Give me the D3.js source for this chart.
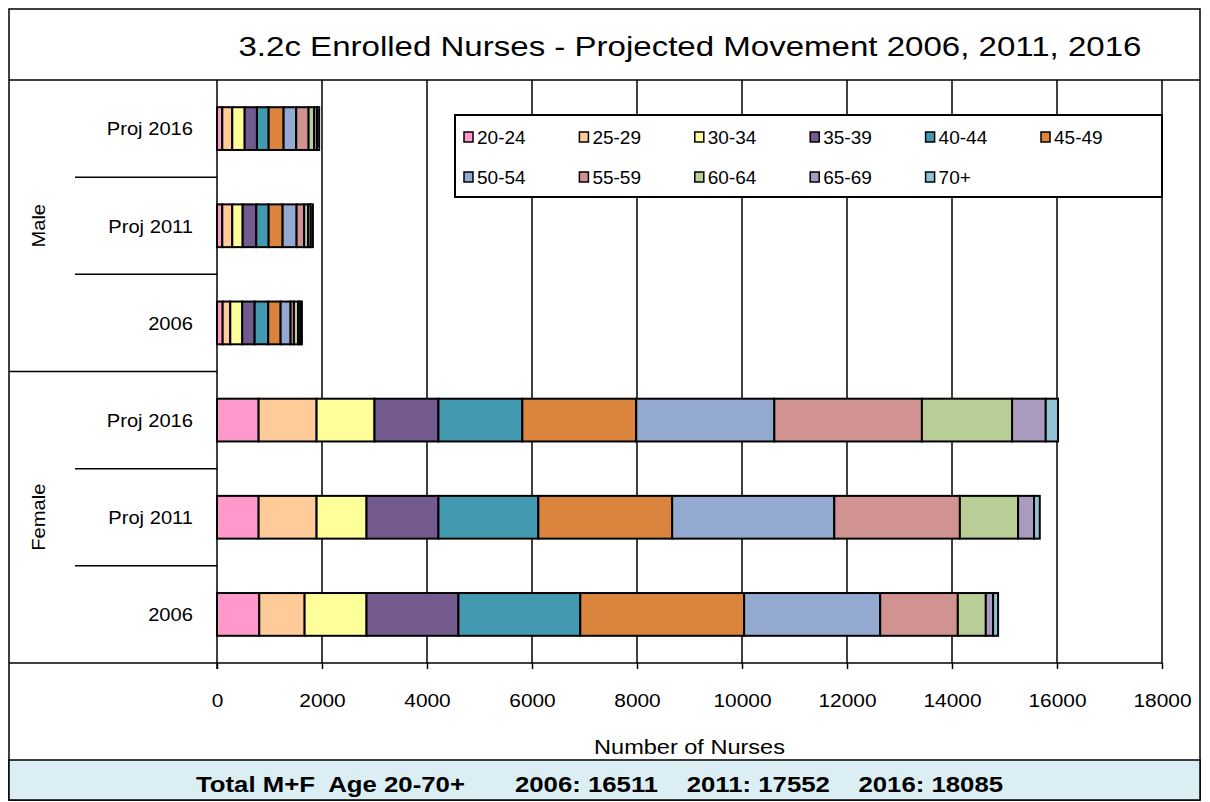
<!DOCTYPE html>
<html>
<head>
<meta charset="utf-8">
<script src="https://cdn.jsdelivr.net/npm/d3@7"></script>
<style>
    body { margin: 0; background: #fff; }
    svg text { font-family: "Liberation Sans", Arial, sans-serif; fill: #000; }
</style>
</head>
<body>
<div id="chart-container"></div>
<script>
// Age groups (stack order, left to right)
const ageGroups = ["20-24", "25-29", "30-34", "35-39", "40-44", "45-49",
                   "50-54", "55-59", "60-64", "65-69", "70+"];
const ageColors = ["#FF99CC", "#FFCC99", "#FFFF99", "#735B8F", "#4399B0", "#DB843D",
                   "#93A9CF", "#D19392", "#B9CD96", "#A99BBD", "#91C3D5"];

// Rows, top to bottom
const groups = ["Male", "Female"];
const rowLabels = ["Proj 2016", "Proj 2011", "2006"];

// Number of nurses per age group
const male2016 = [101, 190, 236, 234, 223, 285, 240, 236, 106, 55, 40];
const male2011 = [101, 190, 198, 259, 236, 266, 266, 145, 76, 50, 39];
const male2006 = [108, 145, 228, 236, 259, 236, 190, 63, 82, 40, 30];
const female2016 = [793, 1104, 1103, 1218, 1598, 2169, 2631, 2811, 1718, 641, 234];
const female2011 = [793, 1104, 951, 1370, 1903, 2549, 3088, 2392, 1109, 304, 109];
const female2006 = [805, 864, 1179, 1751, 2321, 3120, 2593, 1478, 533, 139, 95];

const xTicks = [0, 2000, 4000, 6000, 8000, 10000, 12000, 14000, 16000, 18000];

const titleText = "3.2c Enrolled Nurses - Projected Movement 2006, 2011, 2016";
const xAxisTitle = "Number of Nurses";
const footerText = "Total M+F  Age 20-70+       2006: 16511    2011: 17552    2016: 18085";

// the source picture's text is a bit wider than plain Arial
function stretch(sel, k) {
    sel.each(function() {
        const w = this.getComputedTextLength();
        d3.select(this)
            .attr("textLength", w * k)
            .attr("lengthAdjust", "spacingAndGlyphs");
    });
}

class StackedBarChart {
    constructor() {
        this.container = d3.select("#chart-container");
        this.W = 1210;
        this.H = 802;
        this.plot = {left: 217, right: 1162, top: 80, bottom: 663};

        this.rows = [
            {group: "Male", label: rowLabels[0], values: male2016},
            {group: "Male", label: rowLabels[1], values: male2011},
            {group: "Male", label: rowLabels[2], values: male2006},
            {group: "Female", label: rowLabels[0], values: female2016},
            {group: "Female", label: rowLabels[1], values: female2011},
            {group: "Female", label: rowLabels[2], values: female2006}
        ].map((r, i) => ({...r, key: r.group + " " + r.label, idx: i}));

        this.init();
        this.render();
    }

    init() {
        this.svg = this.container.append("svg")
            .attr("width", this.W)
            .attr("height", this.H);

        this.xScale = d3.scaleLinear()
            .domain([0, 18000])
            .range([this.plot.left, this.plot.right]);

        this.yScale = d3.scaleBand()
            .domain(this.rows.map(d => d.key))
            .range([this.plot.top, this.plot.bottom])
            .paddingInner(0.56)
            .paddingOuter(0.28);

        this.color = d3.scaleOrdinal().domain(ageGroups).range(ageColors);
    }

    render() {
        const svg = this.svg;
        const p = this.plot;
        const x = this.xScale;
        const y = this.yScale;
        const step = y.step();

        // outer frame
        svg.append("rect")
            .attr("x", 9).attr("y", 9)
            .attr("width", 1191).attr("height", 791)
            .attr("fill", "#fff")
            .attr("stroke", "#000").attr("stroke-width", 1.5);

        // footer band
        svg.append("rect")
            .attr("x", 9).attr("y", 760)
            .attr("width", 1191).attr("height", 40)
            .attr("fill", "#DBEEF4")
            .attr("stroke", "#000").attr("stroke-width", 1.5);

        svg.append("text")
            .attr("x", 196).attr("y", 792)
            .style("font-size", "22px")
            .style("font-weight", "bold")
            .style("white-space", "pre")
            .attr("xml:space", "preserve")
            .text(footerText)
            .call(stretch, 1.17);

        // title
        svg.append("text")
            .attr("x", 690).attr("y", 56)
            .attr("text-anchor", "middle")
            .style("font-size", "28px")
            .text(titleText)
            .call(stretch, 1.18);

        // vertical gridlines
        svg.append("g").selectAll("line")
            .data(xTicks.slice(1))
            .join("line")
            .attr("x1", d => x(d)).attr("x2", d => x(d))
            .attr("y1", p.top).attr("y2", p.bottom)
            .attr("stroke", "#000").attr("stroke-width", 1.5);

        // x axis
        const xAxis = svg.append("g")
            .attr("transform", `translate(0,${p.bottom})`)
            .call(d3.axisBottom(x).tickValues(xTicks).tickSize(6).tickPadding(38).tickFormat(d3.format("d")));
        xAxis.select(".domain").remove();
        xAxis.selectAll(".tick line").attr("stroke", "#000").attr("stroke-width", 1.5);
        xAxis.selectAll(".tick text")
            .attr("dy", 0)
            .style("font-family", "'Liberation Sans', Arial, sans-serif")
            .style("font-size", "18px")
            .call(stretch, 1.16);

        svg.append("text")
            .attr("x", (p.left + p.right) / 2).attr("y", 754)
            .attr("text-anchor", "middle")
            .style("font-size", "21px")
            .text(xAxisTitle)
            .call(stretch, 1.12);

        // row separators on the category axis
        const sepLines = d3.range(0, 7).map(k => ({
            y: p.top + k * step,
            x1: (k % 3 === 0) ? 9 : 75,
            x2: k === 0 ? 1200 : (k === 6 ? p.right : p.left)
        }));
        svg.append("g").selectAll("line")
            .data(sepLines)
            .join("line")
            .attr("x1", d => d.x1).attr("x2", d => d.x2)
            .attr("y1", d => d.y).attr("y2", d => d.y)
            .attr("stroke", "#000").attr("stroke-width", 1.5);

        // value axis line
        svg.append("line")
            .attr("x1", p.left).attr("x2", p.left)
            .attr("y1", p.top).attr("y2", p.bottom + 6)
            .attr("stroke", "#000").attr("stroke-width", 1.5);

        // row labels
        svg.append("g").selectAll("text")
            .data(this.rows)
            .join("text")
            .attr("x", 193)
            .attr("y", d => y(d.key) + y.bandwidth() / 2)
            .attr("dy", "0.36em")
            .attr("text-anchor", "end")
            .style("font-size", "19px")
            .text(d => d.label)
            .call(stretch, 1.06);

        // group labels
        svg.append("g").selectAll("text")
            .data(groups)
            .join("text")
            .attr("transform", (d, i) => `translate(38,${p.top + (i * 3 + 1.5) * step}) rotate(-90)`)
            .attr("dy", "0.36em")
            .attr("text-anchor", "middle")
            .style("font-size", "19px")
            .text(d => d)
            .call(stretch, 1.06);

        // stacked bars
        const stackData = this.rows.map(r => {
            const o = {key: r.key};
            ageGroups.forEach((a, i) => { o[a] = r.values[i]; });
            return o;
        });
        const series = d3.stack().keys(ageGroups)(stackData);

        svg.append("g").selectAll("g")
            .data(series)
            .join("g")
            .attr("fill", d => this.color(d.key))
            .selectAll("rect")
            .data(d => d)
            .join("rect")
            .attr("x", d => x(d[0]))
            .attr("width", d => x(d[1]) - x(d[0]))
            .attr("y", d => y(d.data.key))
            .attr("height", y.bandwidth())
            .attr("stroke", "#000")
            .attr("stroke-width", 2);

        // legend
        const lg = svg.append("g").attr("transform", "translate(455,115)");
        lg.append("rect")
            .attr("width", 707).attr("height", 82)
            .attr("fill", "#fff")
            .attr("stroke", "#000").attr("stroke-width", 2);

        const items = lg.selectAll("g.item")
            .data(ageGroups)
            .join("g")
            .attr("class", "item")
            .attr("transform", (d, i) => `translate(${9 + (i % 6) * 115.4},${i < 6 ? 22 : 62})`);
        items.append("rect")
            .attr("x", 0).attr("y", -5)
            .attr("width", 9).attr("height", 10)
            .attr("fill", d => this.color(d))
            .attr("stroke", "#000").attr("stroke-width", 1.5);
        items.append("text")
            .attr("x", 13).attr("dy", "0.36em")
            .style("font-size", "19px")
            .text(d => d);
    }
}

new StackedBarChart();
</script>
</body>
</html>
